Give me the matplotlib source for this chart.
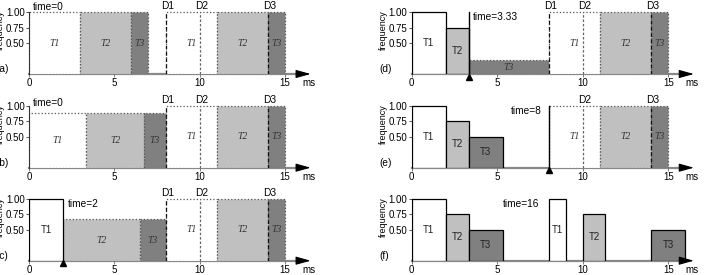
import matplotlib
matplotlib.use("Agg")
from matplotlib import pyplot as plt

plt.rcParams["font.family"] = ["Liberation Sans", "DejaVu Sans"]

W, H = 705, 275
FILL = {"T1": "white", "T2": "#c0c0c0", "T3": "#808080"}

# second period, still planned at full speed (panels a-e)
next_tasks = ["T1", "T2", "T3"]
next_start = [8, 11, 14]
next_end = [11, 14, 15]
next_freq = [1.0, 1.0, 1.0]

# panel data: executed boxes and planned boxes of the first period
panels = ["a", "b", "c", "d", "e", "f"]
times = ["0", "0", "2", "3.33", "8", "16"]
time_values = [0, 0, 2, 3.33, 8, 16]

a_done_tasks, a_done_start, a_done_end, a_done_freq = [], [], [], []
a_plan_tasks = ["T1", "T2", "T3"]
a_plan_start = [0, 3, 6]
a_plan_end = [3, 6, 7]
a_plan_freq = [1.0, 1.0, 1.0]

b_done_tasks, b_done_start, b_done_end, b_done_freq = [], [], [], []
b_plan_tasks = ["T1", "T2", "T3"]
b_plan_start = [0, 3.33, 6.75]
b_plan_end = [3.33, 6.75, 8]
b_plan_freq = [0.875, 0.875, 0.875]

c_done_tasks = ["T1"]
c_done_start = [0]
c_done_end = [2]
c_done_freq = [1.0]
c_plan_tasks = ["T2", "T3"]
c_plan_start = [2, 6.5]
c_plan_end = [6.5, 8]
c_plan_freq = [0.667, 0.667]

d_done_tasks = ["T1", "T2"]
d_done_start = [0, 2]
d_done_end = [2, 3.33]
d_done_freq = [1.0, 0.75]
d_plan_tasks = ["T3"]
d_plan_start = [3.33]
d_plan_end = [8]
d_plan_freq = [0.22]

e_done_tasks = ["T1", "T2", "T3"]
e_done_start = [0, 2, 3.33]
e_done_end = [2, 3.33, 5.33]
e_done_freq = [1.0, 0.75, 0.5]
e_plan_tasks, e_plan_start, e_plan_end, e_plan_freq = [], [], [], []

f_done_tasks = ["T1", "T2", "T3", "T1", "T2", "T3"]
f_done_start = [0, 2, 3.33, 8, 10, 14]
f_done_end = [2, 3.33, 5.33, 9, 11.33, 16]
f_done_freq = [1.0, 0.75, 0.5, 1.0, 0.75, 0.5]
f_plan_tasks, f_plan_start, f_plan_end, f_plan_freq = [], [], [], []

done = {
    "a": (a_done_tasks, a_done_start, a_done_end, a_done_freq),
    "b": (b_done_tasks, b_done_start, b_done_end, b_done_freq),
    "c": (c_done_tasks, c_done_start, c_done_end, c_done_freq),
    "d": (d_done_tasks, d_done_start, d_done_end, d_done_freq),
    "e": (e_done_tasks, e_done_start, e_done_end, e_done_freq),
    "f": (f_done_tasks, f_done_start, f_done_end, f_done_freq),
}
plan = {
    "a": (a_plan_tasks, a_plan_start, a_plan_end, a_plan_freq),
    "b": (b_plan_tasks, b_plan_start, b_plan_end, b_plan_freq),
    "c": (c_plan_tasks, c_plan_start, c_plan_end, c_plan_freq),
    "d": (d_plan_tasks, d_plan_start, d_plan_end, d_plan_freq),
    "e": (e_plan_tasks, e_plan_start, e_plan_end, e_plan_freq),
    "f": (f_plan_tasks, f_plan_start, f_plan_end, f_plan_freq),
}

deadline_names = ["D1", "D2", "D3"]
deadlines = [8, 10, 14]
# which deadlines are drawn in each panel
shown_deadlines = {"a": [0, 1, 2], "b": [0, 1, 2], "c": [0, 1, 2],
                   "d": [0, 1, 2], "e": [1, 2], "f": []}

xticks = [0, 5, 10, 15]
yticks = [0.5, 0.75, 1.0]
ytick_labels = ["0.50", "0.75", "1.00"]

# where the time text goes: (x, y, ha)
time_pos = {"a": (0.2, 1.08, "left"), "b": (0.2, 1.05, "left"),
            "c": (2.3, 0.91, "left"), "d": (3.6, 0.92, "left"),
            "e": (7.6, 0.92, "right"), "f": (5.35, 0.91, "left")}

fig = plt.figure(figsize=(W / 100, H / 100), dpi=100)

col_x0 = [29, 411.7]
col_scale = [17.07, 17.1]
row_base = [74, 167.7, 260.7]
unit = 62
XMAX, YMAX = 17, 1.2


def boxes(ax, data, planned):
    tasks, start, end, freq = data
    for t, s, e, f in zip(tasks, start, end, freq):
        if planned:
            ax.bar(s, f, width=e - s, align="edge", color=FILL[t],
                   edgecolor="#555555", linestyle=":", linewidth=0.9, zorder=2)
            ax.text((s + e) / 2, f / 2, t, ha="center", va="center",
                    family="Liberation Serif", style="italic", fontsize=7,
                    color="#333333", zorder=5)
        else:
            ax.bar(s, f, width=e - s, align="edge", color=FILL[t],
                   edgecolor="black", linewidth=0.9, zorder=3)
            ax.text((s + e) / 2, f / 2, t, ha="center", va="center",
                    fontsize=7, color="#222222", zorder=5)


for i, p in enumerate(panels):
    col, row = i // 3, i % 3
    left = col_x0[col] / W
    width = XMAX * col_scale[col] / W
    bottom = (H - row_base[row]) / H
    height = YMAX * unit / H
    ax = fig.add_axes([left, bottom, width, height])
    ax.set_xlim(0, XMAX)
    ax.set_ylim(0, YMAX)
    ax.patch.set_alpha(0)

    boxes(ax, plan[p], True)
    if p != "f":
        boxes(ax, (next_tasks, next_start, next_end, next_freq), True)
    boxes(ax, done[p], False)

    for k in shown_deadlines[p]:
        dash = (0, (2, 1.5)) if k == 1 else (0, (3, 2))
        color = "#666666" if k == 1 else "#111111"
        ax.plot([deadlines[k], deadlines[k]], [0, 1.0], linestyle=dash,
                color=color, linewidth=0.9, zorder=4)
        ax.text(deadlines[k] + 0.1, 1.09, deadline_names[k], ha="center",
                va="center", fontsize=7.3, clip_on=False)

    t = time_values[i]
    if p in ("d", "e"):
        ax.plot([t, t], [0, 1.0], color="black", linewidth=1.0, zorder=6)
    if p in ("c", "d", "e"):
        ax.plot([t], [-0.045], marker="^", color="black", markersize=3.8,
                clip_on=False, zorder=7)

    tx, ty, ha = time_pos[p]
    ax.text(tx, ty, "time=" + times[i], ha=ha, va="center", fontsize=7.3,
            clip_on=False)

    # axes styling
    for side in ("top", "right"):
        ax.spines[side].set_visible(False)
    ax.spines["left"].set_bounds(0, 1.0)
    ax.spines["left"].set_color("#333333")
    ax.spines["left"].set_linewidth(0.8)
    ax.spines["bottom"].set_bounds(0, 15.9)
    ax.spines["bottom"].set_color("#888888")
    ax.spines["bottom"].set_linewidth(1.6)
    ax.spines["bottom"].set_zorder(1)
    ax.annotate("", xy=(16.5, 0), xytext=(15.7, 0),
                arrowprops=dict(arrowstyle="-|>,head_length=0.9,head_width=0.25",
                                color="black", lw=0.8, shrinkA=0, shrinkB=0),
                annotation_clip=False)

    ax.set_xticks(xticks)
    ax.set_xticklabels([str(x) for x in xticks])
    ax.set_yticks(yticks)
    ax.set_yticklabels(ytick_labels)
    ax.tick_params(axis="x", length=2, width=0.6, color="#666666", pad=1,
                   labelsize=7)
    ax.tick_params(axis="y", length=2, width=0.6, color="#333333", pad=1,
                   labelsize=7)
    ax.text(16.0, -0.15, "ms", ha="left", va="center", fontsize=7,
            clip_on=False)

    ax.text(-1.66, 0.7, "frequency", rotation=90, ha="center", va="center",
            fontsize=6.5, clip_on=False)
    ax.text(-1.9, 0.08, "(" + p + ")", ha="left", va="center", fontsize=7.3,
            clip_on=False)

fig.savefig("out.png", dpi=100)
